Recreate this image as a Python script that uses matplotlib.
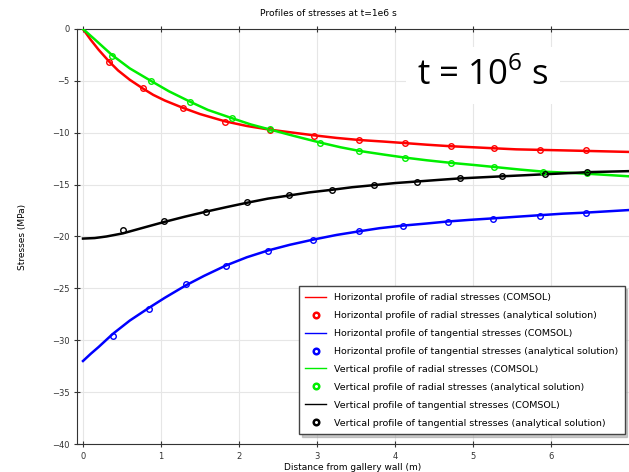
import matplotlib.pyplot as plt

plt.rcParams['mathtext.fontset'] = 'custom'
plt.rcParams['mathtext.rm'] = 'Open Sans'

# horizontal profile, radial stresses (COMSOL curve + analytical points)
h_rad_x = [0.0, 0.1, 0.2, 0.33, 0.45, 0.6, 0.77, 0.9, 1.05, 1.28, 1.5, 1.82, 2.1, 2.39, 2.7, 2.96,
           3.25, 3.54, 3.85, 4.13, 4.4, 4.71, 5.0, 5.27, 5.55, 5.85, 6.15, 6.44, 7.0]
h_rad_y = [0.0, -1.05, -2.0, -3.1, -4.0, -4.9, -5.75, -6.35, -6.9, -7.6, -8.2, -8.9, -9.35, -9.7, -10.0, -10.25,
           -10.5, -10.7, -10.85, -11.0, -11.15, -11.3, -11.4, -11.5, -11.6, -11.65, -11.7, -11.75, -11.85]
h_rad_px = [0.33, 0.77, 1.28, 1.82, 2.39, 2.96, 3.54, 4.13, 4.71, 5.27, 5.85, 6.44]
h_rad_py = [-3.2, -5.7, -7.6, -9.0, -9.7, -10.3, -10.7, -11.0, -11.3, -11.5, -11.7, -11.7]

# horizontal profile, tangential stresses
h_tan_x = [0.0, 0.1, 0.2, 0.38, 0.6, 0.84, 1.05, 1.32, 1.55, 1.83, 2.1, 2.37, 2.65, 2.95, 3.25, 3.54,
           3.8, 4.1, 4.4, 4.68, 4.95, 5.26, 5.55, 5.85, 6.15, 6.44, 7.0]
h_tan_y = [-32.0, -31.3, -30.65, -29.4, -28.1, -26.9, -25.9, -24.7, -23.8, -22.8, -22.0, -21.35, -20.8, -20.3,
           -19.85, -19.5, -19.2, -18.95, -18.75, -18.55, -18.4, -18.25, -18.1, -17.95, -17.8, -17.7, -17.45]
h_tan_px = [0.38, 0.84, 1.32, 1.83, 2.37, 2.95, 3.54, 4.1, 4.68, 5.26, 5.85, 6.44]
h_tan_py = [-29.6, -27.0, -24.6, -22.8, -21.4, -20.3, -19.5, -19.0, -18.6, -18.3, -18.0, -17.7]

# vertical profile, radial stresses
v_rad_x = [0.0, 0.15, 0.37, 0.6, 0.87, 1.1, 1.37, 1.6, 1.91, 2.15, 2.4, 2.7, 3.04, 3.3, 3.54, 3.85,
           4.13, 4.4, 4.71, 5.0, 5.27, 5.6, 5.9, 6.2, 6.46, 7.0]
v_rad_y = [0.0, -1.0, -2.5, -3.8, -5.0, -6.0, -7.0, -7.8, -8.6, -9.2, -9.7, -10.3, -10.95, -11.4, -11.75,
           -12.1, -12.4, -12.65, -12.9, -13.1, -13.3, -13.55, -13.75, -13.85, -13.95, -14.2]
v_rad_px = [0.37, 0.87, 1.37, 1.91, 2.4, 3.04, 3.54, 4.13, 4.71, 5.27, 5.9, 6.46]
v_rad_py = [-2.6, -5.0, -7.0, -8.6, -9.6, -11.0, -11.8, -12.4, -12.9, -13.3, -13.8, -13.9]

# vertical profile, tangential stresses
v_tan_x = [0.0, 0.15, 0.3, 0.51, 0.75, 1.04, 1.3, 1.58, 1.85, 2.1, 2.37, 2.64, 2.9, 3.19, 3.45, 3.73,
           4.0, 4.28, 4.55, 4.83, 5.1, 5.37, 5.65, 5.92, 6.2, 6.46, 7.0]
v_tan_y = [-20.2, -20.15, -20.0, -19.7, -19.2, -18.6, -18.1, -17.6, -17.15, -16.75, -16.35, -16.05, -15.75,
           -15.5, -15.25, -15.05, -14.85, -14.7, -14.55, -14.4, -14.3, -14.2, -14.1, -14.0, -13.9, -13.8, -13.7]
v_tan_px = [0.51, 1.04, 1.58, 2.1, 2.64, 3.19, 3.73, 4.28, 4.83, 5.37, 5.92, 6.46]
v_tan_py = [-19.4, -18.5, -17.6, -16.7, -16.0, -15.5, -15.0, -14.7, -14.4, -14.2, -14.0, -13.8]

labels = ['Horizontal profile of radial stresses (COMSOL)',
          'Horizontal profile of radial stresses (analytical solution)',
          'Horizontal profile of tangential stresses (COMSOL)',
          'Horizontal profile of tangential stresses (analytical solution)',
          'Vertical profile of radial stresses (COMSOL)',
          'Vertical profile of radial stresses (analytical solution)',
          'Vertical profile of tangential stresses (COMSOL)',
          'Vertical profile of tangential stresses (analytical solution)']

fig = plt.figure(figsize=(6.29, 4.72), dpi=100)
ax = fig.add_axes([0.1224, 0.0593, 0.878, 0.8793])

series = [(h_rad_x, h_rad_y, h_rad_px, h_rad_py, '#ff0000'),
          (h_tan_x, h_tan_y, h_tan_px, h_tan_py, '#0000ff'),
          (v_rad_x, v_rad_y, v_rad_px, v_rad_py, '#00ee00'),
          (v_tan_x, v_tan_y, v_tan_px, v_tan_py, '#000000')]

handles = []
for i, (x, y, px, py, c) in enumerate(series):
    ln, = ax.plot(x, y, color=c, lw=1.8, label=labels[2 * i], zorder=3, solid_joinstyle='round')
    pt, = ax.plot(px, py, 'o', mfc='none', mec=c, ms=4, mew=1.0, ls='none',
                  label=labels[2 * i + 1], zorder=4)
    handles += [ln, pt]

ax.set_xlim(-0.077, 7.0)
ax.set_ylim(-40, 0)
ax.set_xticks(range(0, 7))
ax.set_yticks(range(-40, 1, 5))
ax.grid(True, color='#e6e6e6', lw=0.8)
ax.spines['right'].set_visible(False)
ax.tick_params(labelsize=6, direction='inout', length=4, top=True, labeltop=False,
               colors='#333333')
for s in ax.spines.values():
    s.set_color('#333333')

ax.set_xlabel('Distance from gallery wall (m)', fontsize=6.5, labelpad=2)
ax.set_ylabel('Stresses (MPa)', fontsize=6.5, labelpad=18)
fig.text(0.522, 0.972, 'Profiles of stresses at t=1e6 s', fontsize=6.6, ha='center', va='center')

fig.text(0.768, 0.84, r't = 10$^{6}$ s', fontsize=25, family='Open Sans', ha='center', va='center',
         bbox=dict(facecolor='white', edgecolor='none', pad=8), zorder=5)

leg = ax.legend(handles=handles, loc='lower right', bbox_to_anchor=(1.0, 0.012),
                fontsize=6.8, frameon=True, fancybox=False,
                shadow={'color': '#999999', 'alpha': 0.5},
                handlelength=2.2, labelspacing=0.95, borderpad=0.7, handletextpad=0.8)
leg.get_frame().set_edgecolor('#444444')
leg.get_frame().set_linewidth(1.0)
for h in leg.legend_handles:
    h.set_linewidth(1.0)
    h.set_markeredgewidth(1.8)

fig.savefig('out.png', dpi=100)
